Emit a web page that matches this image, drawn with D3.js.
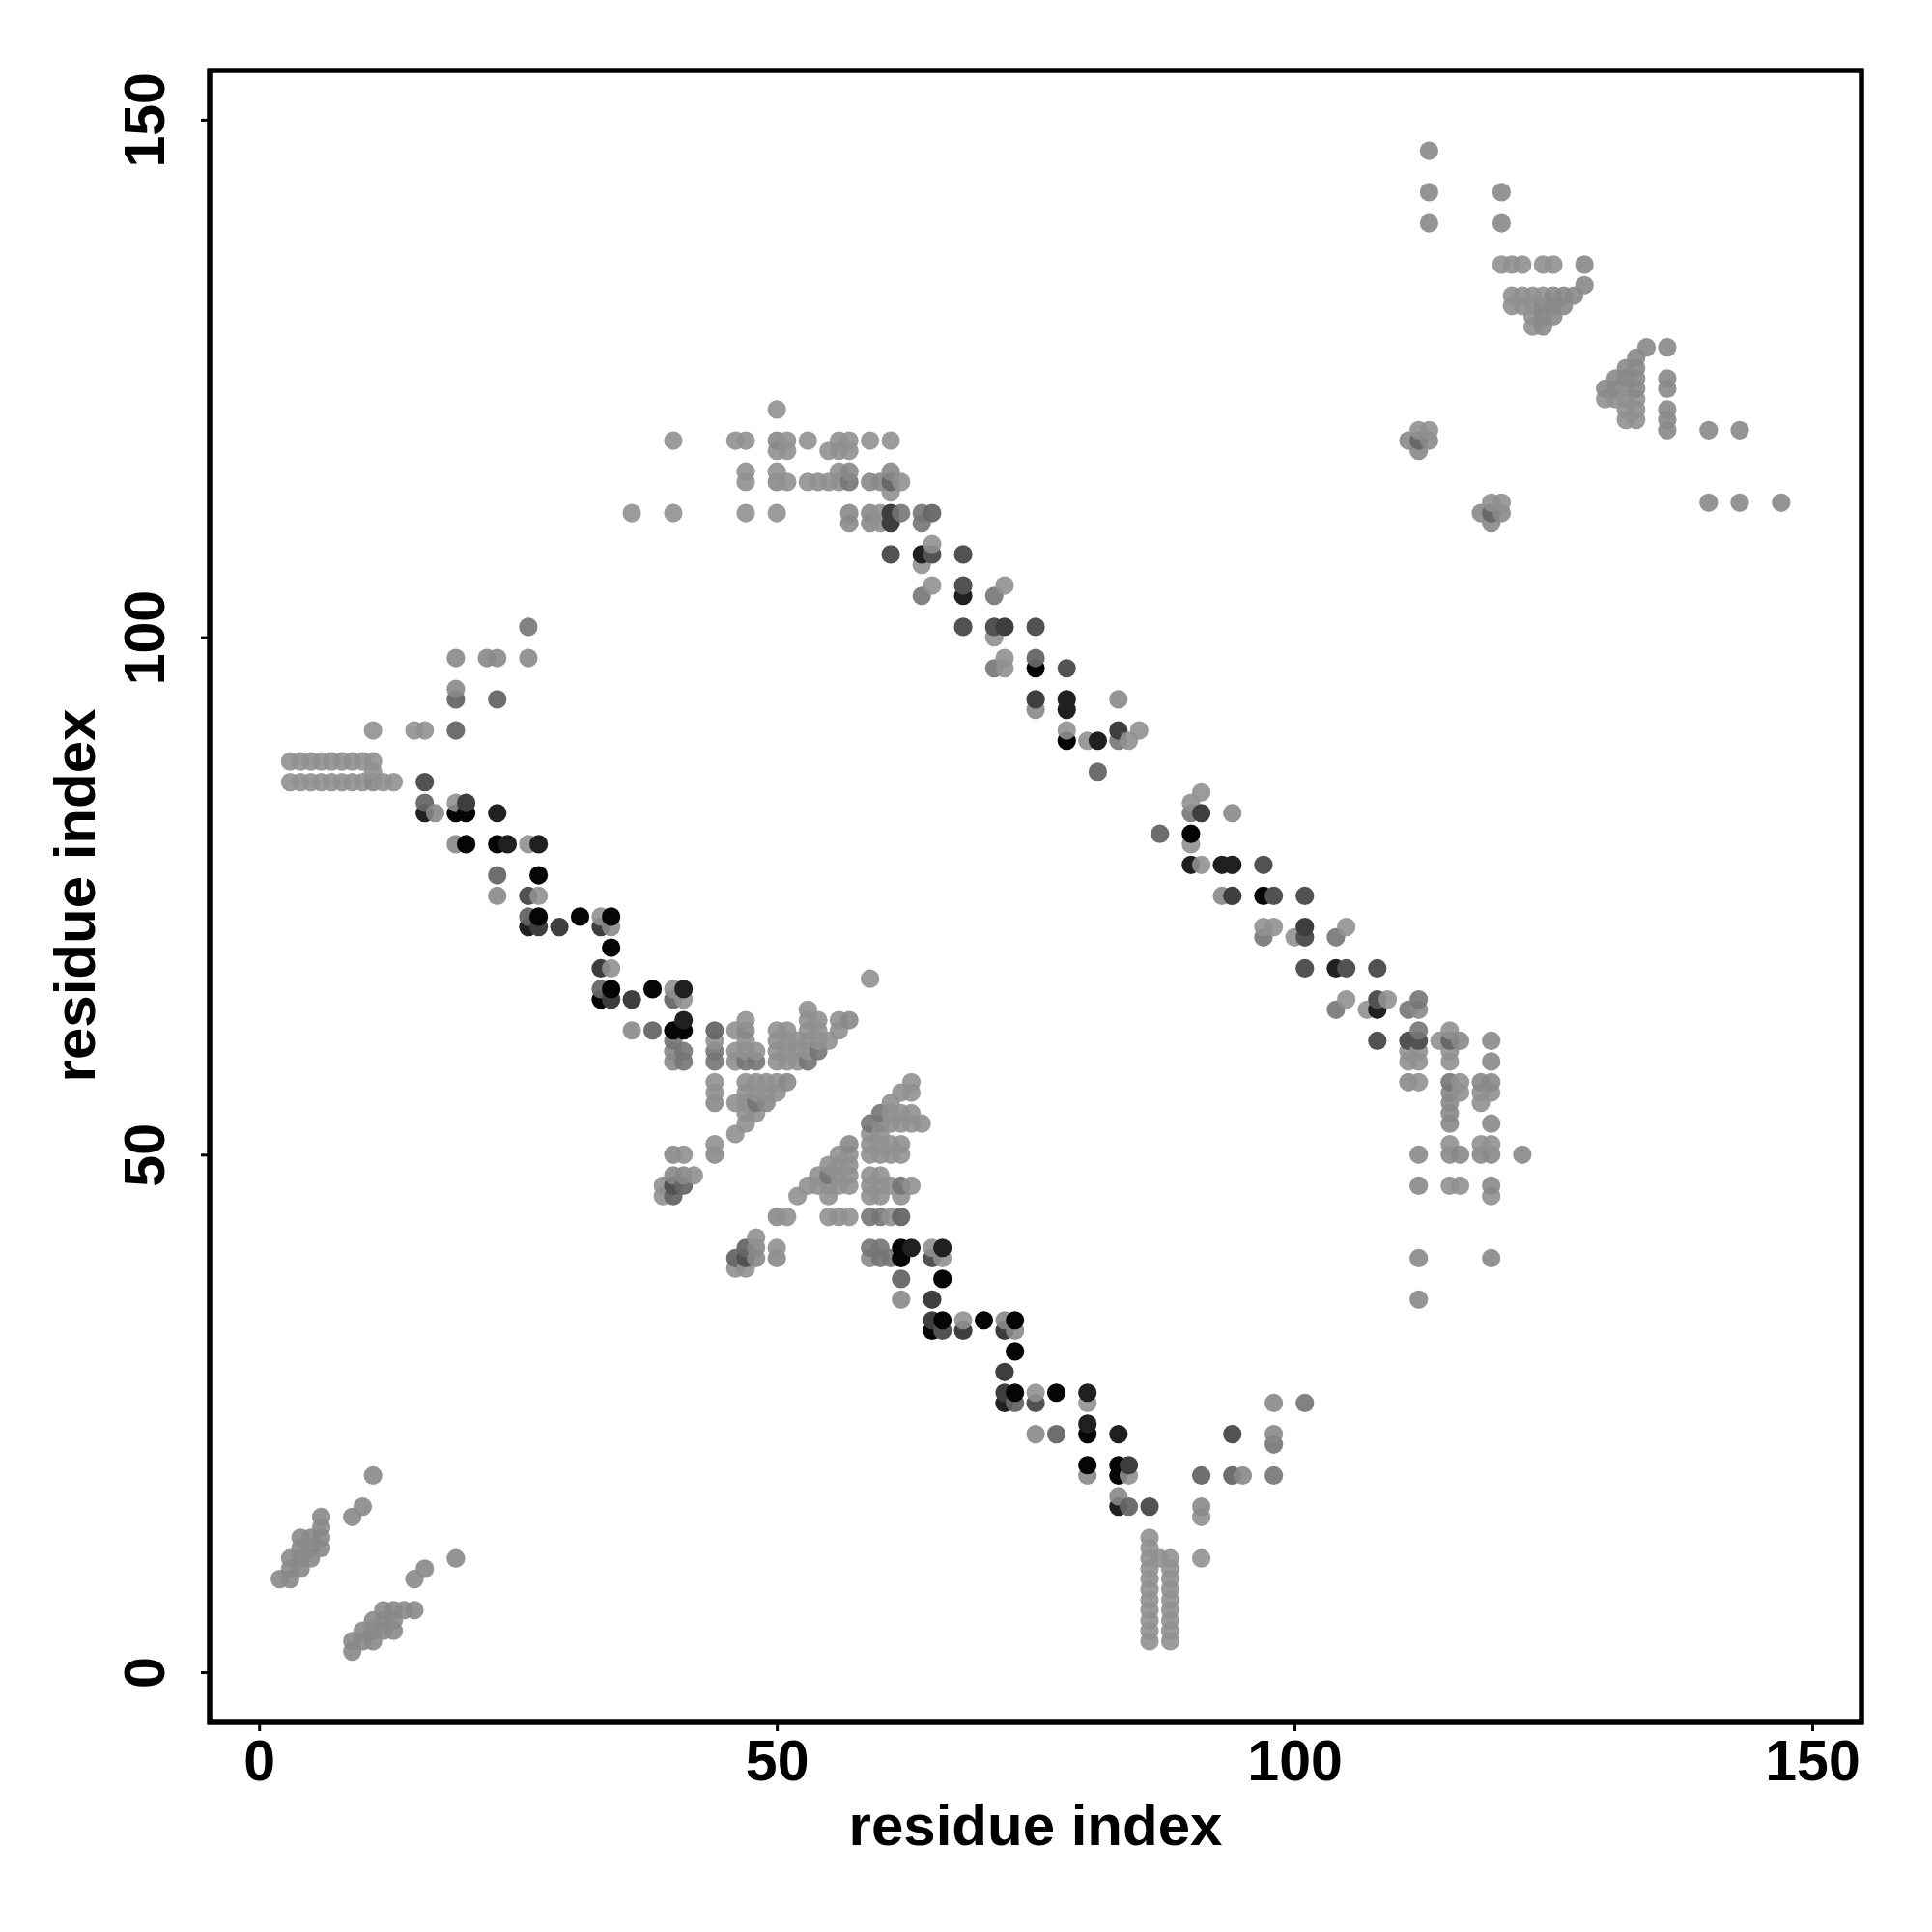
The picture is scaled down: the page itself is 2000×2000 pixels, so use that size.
<!DOCTYPE html>
<html>
<head>
<meta charset="utf-8">
<script src="https://cdn.jsdelivr.net/npm/d3@7"></script>
<style>html,body{margin:0;padding:0;background:#fff}svg{display:block}</style>
</head>
<body>
<svg id="c" width="2000" height="2000"></svg>
<script>
const xLabel = "residue index", yLabel = "residue index";
const xTicks = [0,50,100,150], yTicks = [0,50,100,150];
const shadeGray = ["#050505","#202020","#3e3e3e","#525252","#666666","#747474","#888888","#909090"];
const shadeAlpha = [1,1,1,1,0.95,0.9,0.9,0.9];
const black = [[20,83],[19,83],[20,80],[23,80],[27,77],[27,73],[31,73],[34,70],[34,66],[33,65],[34,73],[38,66],[40,62],[41,62],[62,41],[62,40],[66,38],[66,34],[65,33],[70,34],[73,34],[73,31],[73,27],[77,27],[80,23],[80,20],[83,20],[83,19],[75,97],[78,90],[90,81],[97,75]];
const nearBlack = [[16,83],[23,83],[24,80],[27,80],[26,72],[41,66],[41,63],[63,41],[66,41],[72,26],[80,27],[80,24],[83,23],[83,16],[64,108],[68,104],[78,94],[78,93],[81,90],[90,78],[93,78],[94,78],[104,68],[108,64]];
const darkGray = [[20,84],[27,72],[29,72],[33,72],[33,68],[34,65],[36,65],[65,36],[65,34],[68,33],[72,33],[72,29],[72,27],[84,20],[61,112],[61,111],[72,101],[83,91],[75,94],[91,83],[94,75],[101,72]];
const midDark = [[16,86],[26,75],[40,47],[47,40],[65,40],[66,33],[86,16],[61,108],[65,108],[68,108],[68,105],[68,101],[71,101],[75,101],[78,97],[97,78],[98,75],[101,75],[101,71],[101,68],[105,68],[108,68],[108,65],[108,61],[111,61],[112,61],[75,26],[94,23]];
const midGray = [[19,94],[23,94],[19,91],[16,84],[26,73],[23,77],[33,66],[40,65],[38,62],[44,62],[40,46],[41,47],[47,41],[46,40],[62,44],[62,38],[73,26],[84,16],[77,23],[91,19],[94,19],[61,115],[65,112],[75,98],[81,87],[87,81],[115,61],[112,119],[119,112]];
const gray = [[26,101],[44,60],[44,59],[41,60],[41,59],[40,61],[47,59],[48,59],[53,59],[54,60],[59,53],[60,54],[62,47],[59,44],[60,44],[59,41],[60,41],[60,40],[61,40],[98,22],[98,19],[101,26],[64,112],[64,111],[64,104],[62,112],[71,104],[71,97],[83,90],[90,83],[97,71],[104,71],[104,64],[111,64],[112,65],[112,62],[115,57],[57,115],[48,55],[55,48]];
const lightGray = [[19,98],[22,98],[23,98],[26,98],[19,95],[19,80],[17,83],[23,75],[36,62],[34,72],[11,86],[80,19],[83,17],[75,23],[62,36],[75,93],[83,94],[93,75],[94,83],[72,34],[73,33],[98,26],[98,23],[95,19],[91,16],[40,60],[40,59],[47,62],[44,55],[44,50],[40,50],[40,48],[41,48],[50,44],[48,41],[48,40],[50,40],[59,40],[57,63],[51,57],[49,55],[57,51],[60,53],[112,64],[116,61],[111,57],[57,111],[59,115],[60,115],[119,61],[113,147],[113,143],[120,143],[113,140],[120,140],[128,136],[128,134],[125,133],[126,133],[127,133],[124,132],[125,132],[126,132],[124,131],[125,131],[124,130],
 [2,9],[3,9],[3,10],[4,10],[3,11],[4,11],[5,11],[4,12],[5,12],[6,12],[4,13],[5,13],[6,13],[6,14],[6,15],[9,15],[10,16],[11,19],[9,2],[9,3],[10,3],[11,3],[10,4],[11,4],[12,4],[13,4],[11,5],[12,5],[13,5],[12,6],[13,6],[14,6],[15,6],[15,9],[16,10],[19,11],
 [130,124],[131,125],[132,126],[133,127],[131,124],[132,125],[133,126],[133,125],[133,124],[136,128],[134,128],[136,125],[136,124],[136,122],[136,121],[136,120],[140,120],[143,120],[140,113],[143,113],[147,113],[111,119],[113,119],[112,118],[118,112],[119,111],[120,112],[61,116],[57,116],[50,119],[50,115],[57,112],[57,111],[59,112],[59,111],[112,50],[115,50],[116,50],[118,50],[119,50],[122,50],[112,47],[119,47],[115,56],[115,55],[115,54],[115,53],[119,53],[118,57],[119,57],[119,59],[112,40],[119,40],[112,36]];
const lightest = [[3,88],[4,88],[5,88],[6,88],[7,88],[8,88],[9,88],[10,88],[11,88],[3,86],[4,86],[5,86],[6,86],[7,86],[8,86],[9,86],[10,86],[12,86],[13,86],[11,87],[11,91],[15,91],[16,91],[19,84],[26,80],[27,75],[33,73],[34,68],[40,66],[41,65],[44,61],[44,57],[44,56],[44,51],[41,50],[42,48],[39,47],[39,46],[59,67],[46,62],[47,63],[56,63],[53,64],[53,63],[54,63],[53,62],[54,62],[56,62],[55,61],[47,61],[46,60],[47,60],[48,60],[46,59],[50,62],[51,62],[50,61],[51,61],[52,61],[53,61],[54,61],[50,60],[51,60],[52,60],[53,60],[50,59],[51,59],[52,59],
 [47,57],[48,57],[49,57],[50,57],[47,56],[48,56],[49,56],[50,56],[46,55],[47,55],[47,54],[48,54],[47,53],[46,52],[63,57],[62,56],[63,56],[61,55],[61,54],[62,54],[63,54],[61,53],[62,53],[63,53],[64,53],[59,52],[60,52],[59,51],[60,51],[61,51],[62,51],[59,50],[60,50],[61,50],[62,50],
 [57,50],[56,50],[55,49],[56,49],[57,49],[54,48],[56,48],[57,48],[53,47],[54,47],[55,47],[56,47],[57,47],[52,46],[55,46],[59,48],[60,48],[59,47],[60,47],[61,47],[63,47],[59,46],[60,46],[62,46],[51,44],[55,44],[56,44],[57,44],[61,44],[48,42],[50,41],[46,39],[47,39],[65,41],[66,40],[62,36],[68,34],[75,27],[80,26],[84,19],[91,15],[91,11],[86,13],[86,12],[86,11],[86,10],[86,9],[86,8],[86,7],[86,6],[86,5],[86,4],[86,3],[87,11],[88,11],[88,10],[88,9],[88,8],[88,7],[88,6],[88,5],[88,4],[88,3],
 [50,122],[40,119],[46,119],[47,119],[50,118],[51,119],[51,118],[53,119],[56,119],[57,119],[59,119],[61,119],[55,118],[56,118],[57,118],[47,116],[50,116],[56,116],[47,115],[51,115],[53,115],[54,115],[55,115],[56,115],[62,115],[61,114],[36,112],[40,112],[47,112],[50,112],[60,112],[59,112],[60,111],[65,109],[64,107],[65,105],[72,105],[71,100],[72,98],[72,97],[78,91],[80,90],[84,90],[85,91],[91,85],[90,84],[90,80],[91,78],[97,72],[98,72],[100,71],[105,72],[105,65],[107,64],[109,65],[114,61],[115,62],[111,60],[112,60],[115,60],[111,59],[112,59],[115,59],[112,57],[116,57],[119,56],[118,56],[116,56],[118,55],[115,51],[118,51],[119,51],[115,47],[116,47],[119,46],
 [120,136],[121,136],[122,136],[124,136],[125,136],[121,133],[122,133],[123,133],[124,133],[121,132],[122,132],[123,132],[123,131],[123,130],[130,123],[131,123],[132,124],[132,123],[133,123],[132,122],[133,122],[132,121],[133,121],[112,120],[113,120],[119,113],[120,113]];

const shadeGroups = [black,nearBlack,darkGray,midDark,midGray,gray,lightGray,lightest];

const seen = new Set();
const points = [];
shadeGroups.forEach((g,s)=>g.forEach(([x,y])=>{
  const k=x+","+y; if(seen.has(k))return; seen.add(k); points.push({x,y,s});
}));
points.sort((a,b)=>d3.ascending(a.x,b.x)||d3.ascending(a.y,b.y));

const svg = d3.select("#c");
const box = {l:217,r:1927,t:73,b:1783};
const x = d3.scaleLinear().domain([-4.78,154.76]).range([box.l,box.r]);
const y = d3.scaleLinear().domain([-4.85,154.75]).range([box.b,box.t]);

svg.append("g").selectAll("circle").data(points).join("circle")
  .attr("cx",d=>x(d.x)).attr("cy",d=>y(d.y)).attr("r",9.6)
  .attr("fill",d=>shadeGray[d.s]).attr("fill-opacity",d=>shadeAlpha[d.s]);

const font = "'Liberation Sans',Arial,sans-serif";
const ax = svg.append("g").attr("transform",`translate(0,${box.b})`)
  .call(d3.axisBottom(x).tickValues(xTicks).tickSize(9).tickPadding(14).tickFormat(d3.format("d")));
const ay = svg.append("g").attr("transform",`translate(${box.l},0)`)
  .call(d3.axisLeft(y).tickValues(yTicks).tickSize(9).tickFormat(d3.format("d")));
ax.select(".domain").remove(); ay.select(".domain").remove();
[ax,ay].forEach(a=>{
  a.selectAll("line").attr("stroke","#000").attr("stroke-width",3);
  a.selectAll("text").attr("fill","#000").attr("font-family",font).attr("font-weight","bold").attr("font-size",59);
});
ax.selectAll("text").each(function(){d3.select(this).attr("y",60).attr("dy",0);});
ay.selectAll("text").attr("x",null).attr("dy",0).attr("text-anchor","middle").attr("transform","translate(-47,0) rotate(-90)");

svg.append("rect").attr("x",box.l).attr("y",box.t).attr("width",box.r-box.l).attr("height",box.b-box.t)
  .attr("fill","none").attr("stroke","#000").attr("stroke-width",5.5);

svg.append("text").attr("x",1072).attr("y",1910).attr("text-anchor","middle")
  .attr("font-family",font).attr("font-weight","bold").attr("font-size",60).text(xLabel);
svg.append("text").attr("transform","translate(98,927) rotate(-90)").attr("text-anchor","middle")
  .attr("font-family",font).attr("font-weight","bold").attr("font-size",60).text(yLabel);
</script>
</body>
</html>
